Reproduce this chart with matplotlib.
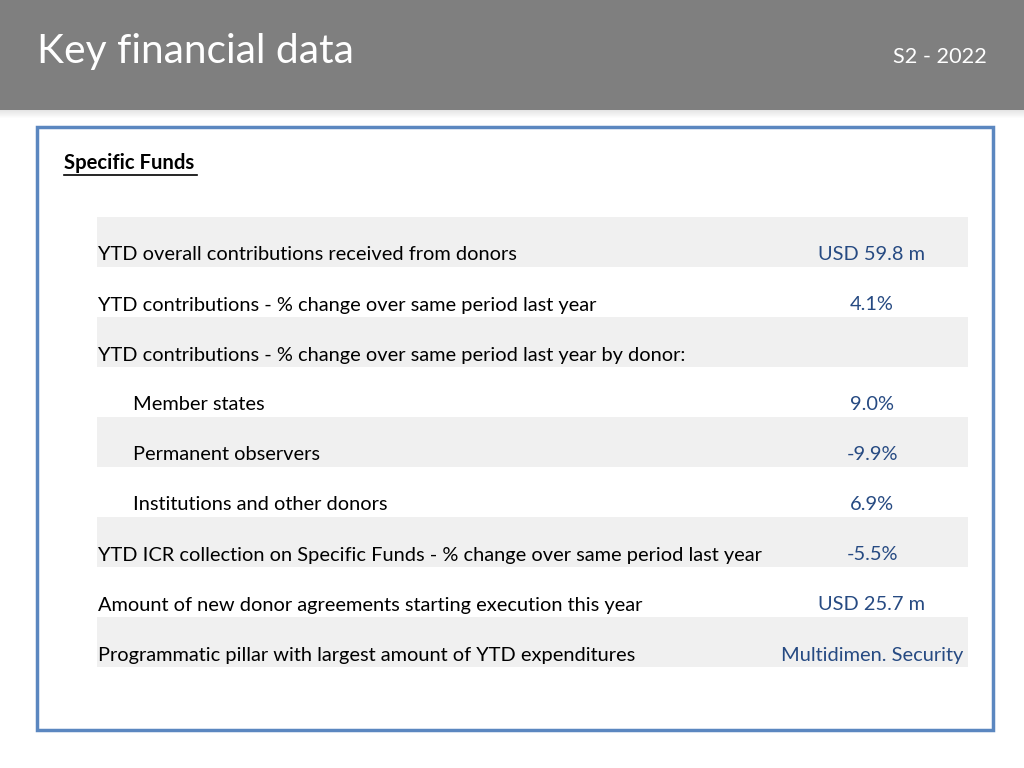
import matplotlib
matplotlib.use("Agg")
from matplotlib import pyplot as plt
from matplotlib.patches import Rectangle

plt.rcParams['font.family'] = ['Lato', 'DejaVu Sans']

title = 'Key financial data'
period = 'S2 - 2022'
section = 'Specific Funds'

labels = [
    'YTD overall contributions received from donors',
    'YTD contributions - % change over same period last year',
    'YTD contributions - % change over same period last year by donor:',
    'Member states',
    'Permanent observers',
    'Institutions and other donors',
    'YTD ICR collection on Specific Funds - % change over same period last year',
    'Amount of new donor agreements starting execution this year',
    'Programmatic pillar with largest amount of YTD expenditures',
]
indent = [0, 0, 0, 1, 1, 1, 0, 0, 0]
values = ['USD 59.8 m', '4.1%', '', '9.0%', '-9.9%', '6.9%', '-5.5%',
          'USD 25.7 m', 'Multidimen. Security']

W, H = 1024, 768
fig = plt.figure(figsize=(W / 100, H / 100), dpi=100)
ax = fig.add_axes([0, 0, 1, 1])
ax.set_xlim(0, W)
ax.set_ylim(H, 0)
ax.axis('off')

# header band + soft shadow
for i in range(8):
    ax.add_patch(Rectangle((0, 110 + i), W, 1, color='#000000', alpha=0.10 * (1 - i / 8), lw=0))
ax.add_patch(Rectangle((0, 0), W, 110, color='#7f7f7f', lw=0))
ax.text(37, 52, title, color='white', fontsize=29.3, va='center', ha='left')
ax.text(987, 57, period, color='white', fontsize=15.6, va='center', ha='right')

# frame
ax.add_patch(Rectangle((37, 127), 956, 603, fill=False, ec='#5b87c0', lw=2.5))

ax.text(64, 163, section, fontsize=14.6, fontweight='bold', va='center', ha='left', color='black')
ax.plot([64, 197], [175, 175], color='black', lw=1.2)

row_top, row_h = 217, 50
for i, (lab, val) in enumerate(zip(labels, values)):
    top = row_top + i * row_h
    if i % 2 == 0:
        ax.add_patch(Rectangle((97, top), 871, row_h, color='#f0f0f0', lw=0))
    y = top + 38
    ax.text(98 + 35 * indent[i], y, lab, fontsize=14.4, va='center', ha='left', color='black')
    if val:
        ax.text(872, y, val, fontsize=14.4, va='center', ha='center', color='#264a82')

fig.savefig('out.png', dpi=100)
